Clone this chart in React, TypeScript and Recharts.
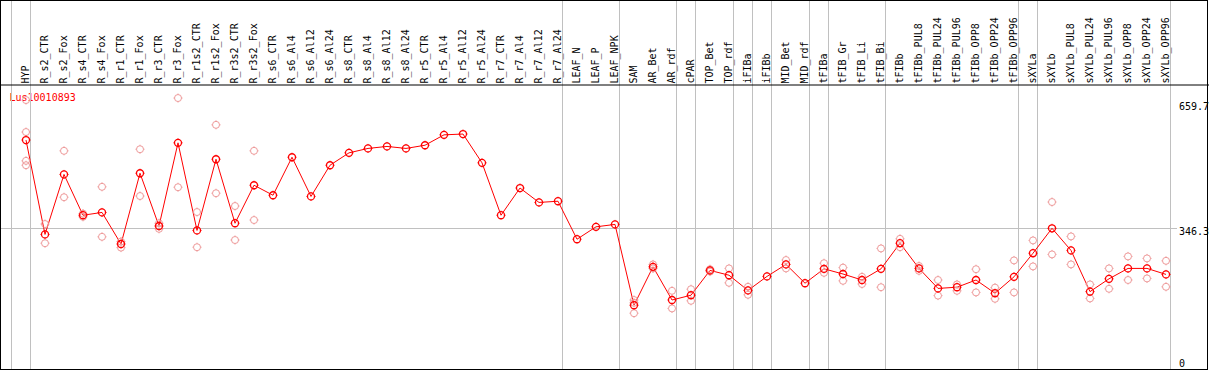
import React from 'react';
import { ComposedChart, Line, XAxis, YAxis, ReferenceLine } from 'recharts';

const title = 'Lus10010893';

const labels = [
  'HYP', 'R_s2_CTR', 'R_s2_Fox', 'R_s4_CTR', 'R_s4_Fox', 'R_r1_CTR', 'R_r1_Fox', 'R_r3_CTR', 'R_r3_Fox',
  'R_r1s2_CTR', 'R_r1s2_Fox', 'R_r3s2_CTR', 'R_r3s2_Fox', 'R_s6_CTR', 'R_s6_Al4', 'R_s6_Al12', 'R_s6_Al24',
  'R_s8_CTR', 'R_s8_Al4', 'R_s8_Al12', 'R_s8_Al24', 'R_r5_CTR', 'R_r5_Al4', 'R_r5_Al12', 'R_r5_Al24',
  'R_r7_CTR', 'R_r7_Al4', 'R_r7_Al12', 'R_r7_Al24', 'LEAF_N', 'LEAF_P', 'LEAF_NPK', 'SAM', 'AR_Bet', 'AR_rdf',
  'cPAR', 'TOP_Bet', 'TOP_rdf', 'iFIBa', 'iFIBb', 'MID_Bet', 'MID_rdf', 'tFIBa', 'tFIB_Gr', 'tFIB_Li', 'tFIB_Bi',
  'tFIBb', 'tFIBb_PUL8', 'tFIBb_PUL24', 'tFIBb_PUL96', 'tFIBb_OPP8', 'tFIBb_OPP24', 'tFIBb_OPP96', 'sXYLa',
  'sXYLb', 'sXYLb_PUL8', 'sXYLb_PUL24', 'sXYLb_PUL96', 'sXYLb_OPP8', 'sXYLb_OPP24', 'sXYLb_OPP96',
];

const means = [
  567, 331, 481, 379, 386, 307, 484, 352, 560,
  341, 519, 359, 454, 429, 524, 426, 504,
  535, 546, 551, 546, 554, 580, 582, 510,
  379, 447, 411, 414, 319, 350, 356, 154, 250, 167,
  179, 241, 229, 191, 226, 256, 209, 245, 232, 217, 245,
  309, 246, 196, 199, 217, 184, 225, 284,
  346.3, 291, 188, 220, 246, 246, 231,
];

const replicates: number[][] = [
  [667, 587, 515, 504], [357, 309], [540, 424], [375, 383], [450, 325], [313, 298], [544, 427], [359, 345], [672, 449],
  [387, 299], [605, 434], [402, 317], [540, 367], [], [], [], [],
  [], [], [], [], [], [], [], [],
  [], [], [], [], [], [], [], [167, 160, 134], [256, 246], [190, 146],
  [194, 165], [244, 238], [246, 210], [200, 180], [], [267, 246], [], [259, 235], [248, 215], [225, 207], [296, 199],
  [320, 299], [252, 240], [217, 178], [206, 190], [244, 186], [198, 170], [266, 186], [316, 251],
  [412, 281], [326, 256], [206, 171], [246, 195], [276, 217], [271, 221], [265, 200],
];

const rightTicks = [0, 346.3, 659.7];
const gridValue = 346.3;
const separatorsAfter = [-1, 0, 28, 31, 34, 35, 37, 38, 39, 41, 42, 45, 52, 53, 60];

// layout
const W = 1209;
const H = 370;
const HEADER = 85;
const PLOT_H = H - HEADER;
const COL = 19;
const FIRST_COL_PX = 26;
const X_MIN = -FIRST_COL_PX / COL;
const X_MAX = X_MIN + W / COL;
const ZERO_PX = 366.8;
const PX_PER_UNIT = 0.39994;
const Y_MAX = (ZERO_PX - HEADER) / PX_PER_UNIT;
const Y_MIN = Y_MAX - PLOT_H / PX_PER_UNIT;
const Y_TOP = Y_MAX + HEADER / PX_PER_UNIT;
const FONT = 'DejaVu Sans Mono';
const GREY = '#c0c0c0';
const MEAN_COLOR = '#ff0000';
const REP_COLOR = '#ee9a9a';

const data = labels.map((label, i) => {
  const row: Record<string, number | string | null> = { idx: i, label, mean: means[i] };
  for (let k = 0; k < 4; k++) row['rep' + k] = replicates[i][k] ?? null;
  return row;
});

function marker(key: string, cx: number, cy: number, color: string, sw: number) {
  const r = 3.5;
  return (
    <g key={key}>
      <circle cx={cx} cy={cy} r={r} fill="none" stroke={color} strokeWidth={sw} />
      <path
        d={`M${cx},${cy - r}v-1M${cx},${cy + r}v1M${cx - r},${cy}h-1M${cx + r},${cy}h1`}
        stroke={color}
        strokeWidth={1}
      />
    </g>
  );
}

const makeDot = (color: string, sw: number, name: string) => (props: any) => {
  const { cx, cy, index, value } = props;
  if (value == null || cx == null || cy == null || Number.isNaN(cy)) return <g key={name + index} />;
  return marker(name + index, cx, cy, color, sw);
};

const TopTick = (props: any) => {
  const { x, payload } = props;
  return (
    <text
      transform={`translate(${x + 3},83.5) rotate(-90)`}
      fontFamily={FONT}
      fontSize={10}
      fill="#000"
      textAnchor="start"
    >
      {labels[payload.value]}
    </text>
  );
};

const rightLabel = (text: string) => (props: any) => {
  const vb = props.viewBox || {};
  const y = vb.y ?? 0;
  return (
    <text x={1179} y={Math.min(y + 7, 366.5)} fontFamily={FONT} fontSize={10} fill="#000" textAnchor="start">
      {text}
    </text>
  );
};

export default function App() {
  return (
    <div style={{ position: 'absolute', left: 0, top: 0, width: W, height: H, background: '#fff' }}>
      <ComposedChart width={W} height={H} data={data} margin={{ top: 0, right: 0, bottom: 0, left: 0 }}>
        <XAxis
          xAxisId={0}
          dataKey="idx"
          type="number"
          orientation="top"
          height={HEADER}
          domain={[X_MIN, X_MAX]}
          allowDataOverflow
          ticks={labels.map((_, i) => i)}
          interval={0}
          tickLine={false}
          axisLine={{ stroke: '#000', strokeWidth: 1 }}
          tick={<TopTick />}
        />
        <YAxis yAxisId={0} hide type="number" domain={[Y_MIN, Y_MAX]} allowDataOverflow />
        {separatorsAfter.map((s) => (
          <ReferenceLine
            key={'sep' + s}
            segment={[{ x: s + 0.25, y: Y_MIN }, { x: s + 0.25, y: Y_TOP }]}
            stroke={GREY}
            strokeWidth={1}
            ifOverflow="visible"
            shapeRendering="crispEdges"
          />
        ))}
        <ReferenceLine
          segment={[{ x: X_MIN, y: gridValue }, { x: labels.length - 1 + 0.6, y: gridValue }]}
          stroke={GREY}
          strokeWidth={1}
          ifOverflow="visible"
          shapeRendering="crispEdges"
        />
        {rightTicks.map((v) => (
          <ReferenceLine
            key={'rt' + v}
            y={v}
            stroke="none"
            ifOverflow="visible"
            label={{ content: rightLabel(String(v)) }}
          />
        ))}
        {[0, 1, 2, 3].map((k) => (
          <Line
            key={'rep' + k}
            dataKey={'rep' + k}
            stroke="none"
            dot={makeDot(REP_COLOR, 1, 'r' + k + '-')}
            activeDot={false}
            isAnimationActive={false}
            legendType="none"
          />
        ))}
        <Line
          dataKey="mean"
          stroke={MEAN_COLOR}
          strokeWidth={1}
          dot={makeDot(MEAN_COLOR, 1.3, 'm-')}
          activeDot={false}
          isAnimationActive={false}
          legendType="none"
        />
        <text x={9.5} y={100.5} fontFamily={FONT} fontSize={10} fill="#ff0000">
          {title}
        </text>
      </ComposedChart>
      <div
        style={{
          position: 'absolute',
          left: 0,
          top: 0,
          width: 1208,
          height: H,
          border: '1px solid #000',
          boxSizing: 'border-box',
          pointerEvents: 'none',
        }}
      />
    </div>
  );
}
